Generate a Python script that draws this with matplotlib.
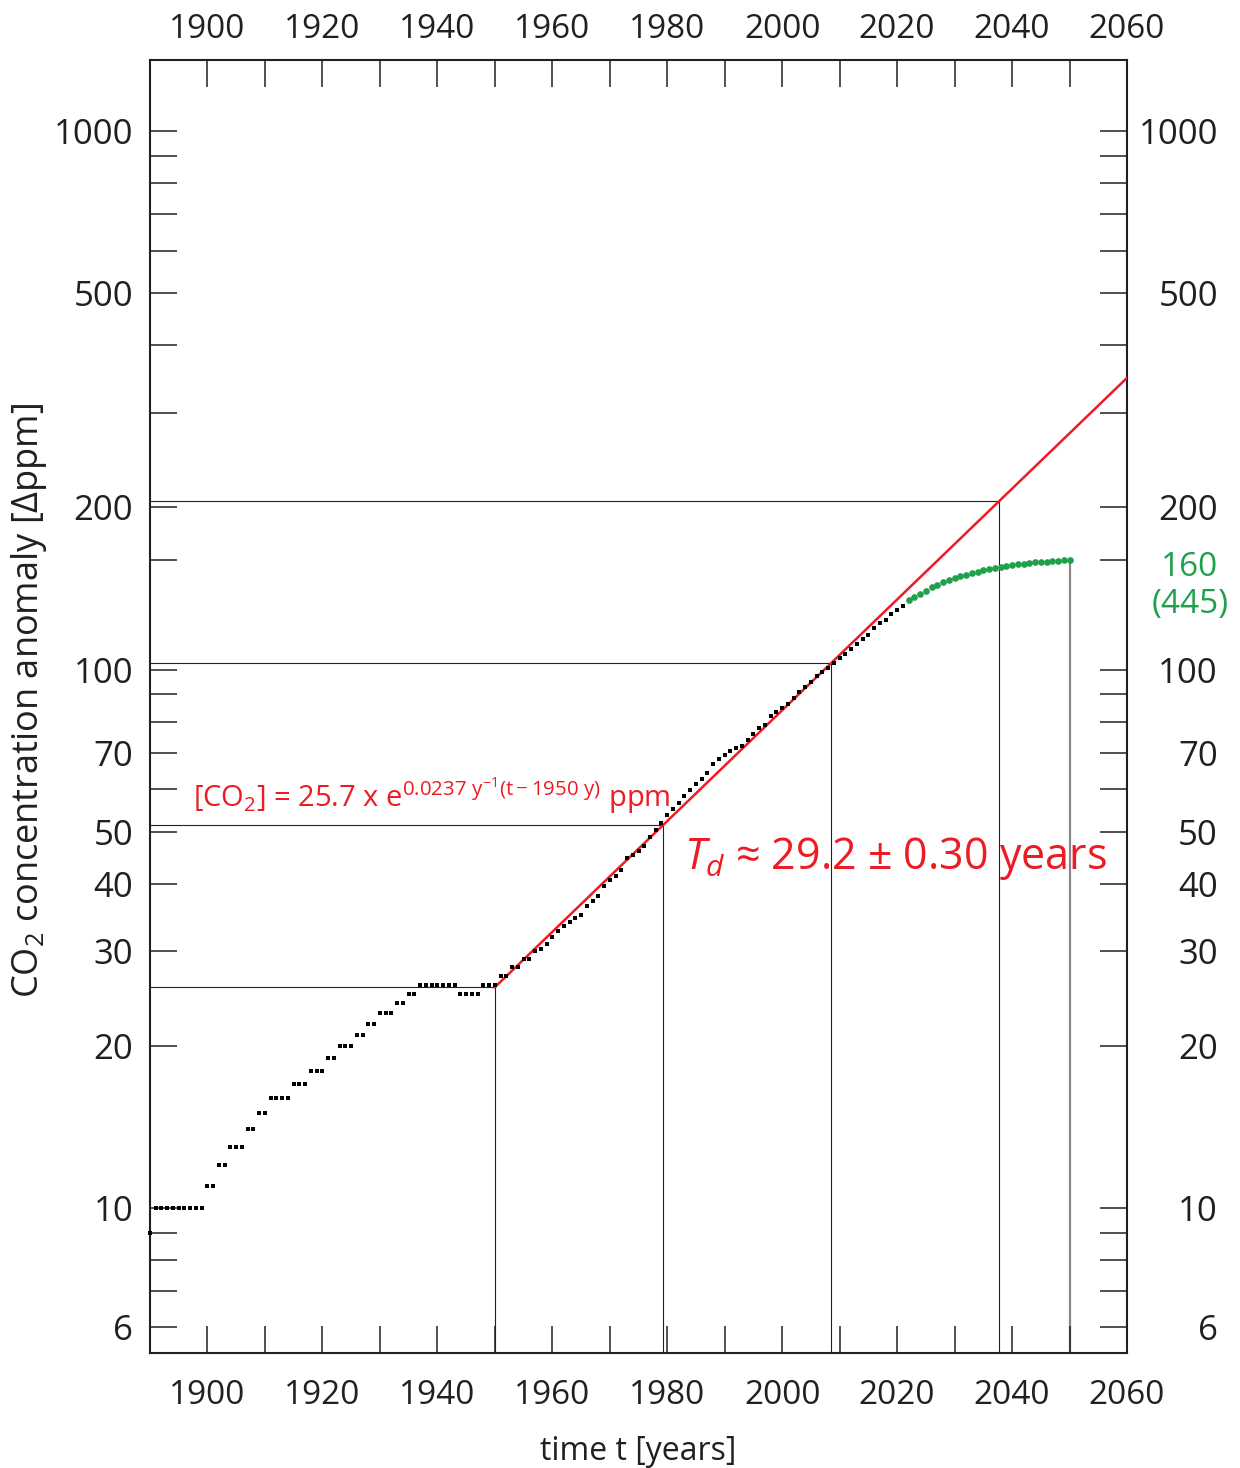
import matplotlib
matplotlib.use("Agg")
import matplotlib.pyplot as plt
import matplotlib.transforms as mtransforms
from matplotlib.ticker import FixedLocator, NullFormatter, NullLocator

plt.rcParams['font.family'] = ['Open Sans', 'DejaVu Sans']
plt.rcParams['mathtext.fontset'] = 'custom'
plt.rcParams['mathtext.rm'] = 'Open Sans'
plt.rcParams['mathtext.it'] = 'Open Sans:italic'

RED = '#ed1c24'
GREEN = '#1fa04a'
INK = '#231f20'

# measured CO2 anomaly (ppm above ~285 ppm), one value per year 1890-2021
obs_years = list(range(1890, 2022))
obs_ppm = (
    [9] + [10] * 9 + [11] * 2 + [12] * 2 + [13] * 3 + [14] * 2 + [15] * 2
    + [16] * 4 + [17] * 3 + [18] * 3 + [19] * 2 + [20] * 3 + [21] * 2 + [22] * 2
    + [23] * 3 + [24] * 2 + [25] * 2 + [26] * 7 + [25] * 4 + [26] * 3
    + [27] * 2 + [28] * 2 + [29] * 2 + [30.0, 30.3]
    + [30.98, 31.91, 32.64, 33.45, 33.99, 34.62, 35.04, 36.37, 37.18, 38.05,
       39.62, 40.68, 41.32, 42.46, 44.68, 45.19, 46.12, 47.03, 48.84, 50.41,
       51.84, 53.76, 55.12, 56.48, 58.15, 59.85, 61.35, 62.61, 64.31, 66.69,
       68.20, 69.45, 70.70, 71.54, 72.21, 73.96, 75.97, 77.74, 78.88, 81.84,
       83.54, 84.71, 86.32, 88.45, 90.98, 92.70, 94.98, 97.09, 99.02, 100.83,
       102.64, 105.10, 106.85, 109.06, 111.74, 113.81, 116.01, 119.41, 121.76,
       123.72, 126.66, 129.24, 131.45]
)

# projected anomaly 2022-2050 (green)
proj_years = list(range(2022, 2051))
proj_ppm = [134.4, 136.2, 138.2, 140.2, 142.2, 143.8, 145.1, 146.4, 147.7,
            148.9, 150.0, 150.9, 151.8, 152.8, 153.5, 154.1, 155.0, 155.5,
            156.2, 156.7, 157.2, 157.7, 158.1, 158.4, 158.7, 159.0, 159.3,
            159.5, 159.7]

# exponential fit line and doubling points
fit_years = [1950, 2060]
fit_ppm = [25.7, 348.0]
double_years = [1950, 1979.2, 2008.5, 2037.7]
double_ppm = [25.7, 51.4, 102.8, 205.6]

xticks = list(range(1890, 2061, 10))
xlabels = list(range(1900, 2061, 20))
yticks = [6, 7, 8, 9, 10, 20, 30, 40, 50, 60, 70, 80, 90, 100, 160,
          200, 300, 400, 500, 600, 700, 800, 900, 1000]
ylabels = [6, 10, 20, 30, 40, 50, 70, 100, 200, 500, 1000]

fig = plt.figure(figsize=(12.4, 14.68), dpi=100)
ax = fig.add_axes([150 / 1240, 1 - 1353 / 1468, 977 / 1240, 1293 / 1468])
ax.set_yscale('log')
ax.set_xlim(1890, 2060)
ax.set_ylim(5.38, 1355)

# reference lines for the doublings
for yr, val in zip(double_years, double_ppm):
    ax.plot([1890, yr], [val, val], color='#222222', lw=0.8, zorder=1)
    ax.plot([yr, yr], [5.38, val], color='#222222', lw=0.8, zorder=1)
ax.plot([proj_years[-1], proj_years[-1]], [5.38, proj_ppm[-1]],
        color='#888888', lw=1.6, zorder=1)

ax.plot(fit_years, fit_ppm, color=RED, lw=1.8, zorder=3)
obs_line, = ax.plot(obs_years, obs_ppm, 's', color='black', ms=3.4, mew=0,
                    zorder=4, clip_on=False)
obs_line.set_snap(False)
ax.plot(proj_years, proj_ppm, 'o', color=GREEN, ms=4.8, mew=0, zorder=4)

# ticks: inward, equal length, all four sides
ax.xaxis.set_major_locator(FixedLocator(xticks))
ax.xaxis.set_minor_locator(NullLocator())
ax.set_xticklabels([str(t) if t in xlabels else '' for t in xticks])
ax.yaxis.set_major_locator(FixedLocator(yticks))
ax.yaxis.set_minor_locator(NullLocator())
ax.yaxis.set_minor_formatter(NullFormatter())
ax.set_yticklabels([str(t) if t in ylabels else '' for t in yticks])
ax.tick_params(axis='both', which='major', direction='in', length=19.5,
               width=1.1, labelsize=24, top=True, right=True, colors=INK)
ax.tick_params(axis='x', pad=19)
ax.tick_params(axis='y', pad=12, labelsize=25)
for sp in ax.spines.values():
    sp.set_linewidth(1.5)
    sp.set_color(INK)

top = ax.secondary_xaxis('top')
top.xaxis.set_major_locator(FixedLocator(xticks))
top.set_xticklabels([str(t) if t in xlabels else '' for t in xticks])
top.tick_params(direction='in', length=0, labelsize=24, pad=10, colors=INK)
top.spines['top'].set_visible(False)

# right-hand labels, right-aligned
rtrans = mtransforms.blended_transform_factory(ax.transAxes, ax.transData)
for v in ylabels:
    ax.text(1.0931, v, str(v), transform=rtrans, ha='right',
            va='center_baseline', fontsize=25, color=INK)
ax.text(1.0645, 157.5, '160', transform=rtrans, ha='center',
        va='center_baseline', fontsize=24, color=GREEN)
ax.text(1.0645, 134.4, '(445)', transform=rtrans, ha='center',
        va='center_baseline', fontsize=24, color=GREEN)

ax.set_xlabel('time t [years]', fontsize=23, color=INK, labelpad=16)
ax.set_ylabel('CO$_2$ concentration anomaly [Δppm]', fontsize=26, color=INK)
ax.yaxis.set_label_coords(-0.1034, 0.505)

ax.text(1897.4, 53.5,
        '[CO$_2$] = 25.7 x e$^{\\mathrm{0.0237\\ y^{-1}(t\u22121950\\ y)}}$ ppm',
        fontsize=21, color=RED, va='bottom')
ax.text(1983, 44.5, '$T_d$ ≈ 29.2 ± 0.30 years', fontsize=31,
        color=RED, va='center')

fig.savefig('out.png', dpi=100)
